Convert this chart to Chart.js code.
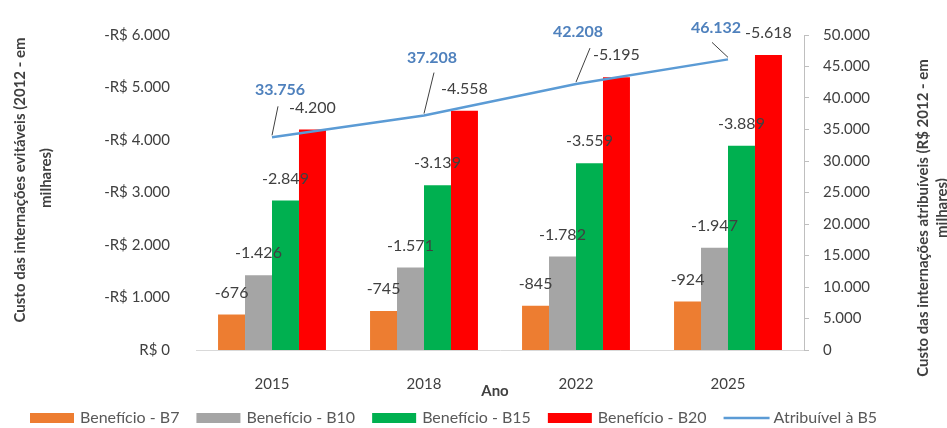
<!DOCTYPE html>
<html>
<head>
<meta charset="utf-8">
<script src="https://cdn.jsdelivr.net/npm/chart.js@4.4.1/dist/chart.umd.min.js"></script>
<style>
  html, body { margin: 0; padding: 0; background: #fff; }
  #wrap { width: 947px; height: 428px; }
</style>
</head>
<body>
<div id="wrap"><canvas id="grafico"></canvas></div>
<script>
// Dados (R$ 2012, em milhares)
const anos = ["2015", "2018", "2022", "2025"];
const beneficioB7 = [-676, -745, -845, -924];
const beneficioB10 = [-1426, -1571, -1782, -1947];
const beneficioB15 = [-2849, -3139, -3559, -3889];
const beneficioB20 = [-4200, -4558, -5195, -5618];
const atribuivelB5 = [33756, 37208, 42208, 46132];

const nomes = ["Benefício - B7", "Benefício - B10", "Benefício - B15", "Benefício - B20", "Atribuível à B5"];
const cores = ["#ED7D31", "#A5A5A5", "#00B050", "#FF0000", "#5B9BD5"];

const FONTE = "Lato, 'Liberation Sans', sans-serif";
const CINZA = "#404040";

// posição dos rótulos da linha e das linhas de chamada (relativas ao ponto)
const rotuloLinhaDesloc = [[8, -47], [8, -58], [2, -52], [-12, -32]];
const chamadaFim = [[6, -31], [10, -43], [14, -36], [-16, -17]];

function milhar(v) {
    let s = Math.abs(Math.round(v)).toString().replace(/\B(?=(\d{3})+(?!\d))/g, ".");
    return (v < 0 ? "-" : "") + s;
}

const rotulos = {
    id: "rotulos",
    afterDatasetsDraw(chart) {
        const ctx = chart.ctx;
        ctx.save();
        ctx.textAlign = "center";
        ctx.textBaseline = "middle";

        // valores das barras
        ctx.font = "16px " + FONTE;
        ctx.fillStyle = CINZA;
        for (let i = 0; i < 4; i++) {
            let meta = chart.getDatasetMeta(i);
            meta.data.forEach((bar, j) => {
                ctx.fillText(milhar(chart.data.datasets[i].data[j]), bar.x, bar.y - 22);
            });
        }

        // valores da linha com chamadas
        let metaLinha = chart.getDatasetMeta(4);
        metaLinha.data.forEach((pt, j) => {
            ctx.strokeStyle = "#404040";
            ctx.lineWidth = 1;
            ctx.beginPath();
            ctx.moveTo(pt.x, pt.y - 2);
            ctx.lineTo(pt.x + chamadaFim[j][0], pt.y + chamadaFim[j][1]);
            ctx.stroke();
            ctx.font = "bold 16px " + FONTE;
            ctx.fillStyle = "#4F81BD";
            ctx.fillText(milhar(atribuivelB5[j]), pt.x + rotuloLinhaDesloc[j][0], pt.y + rotuloLinhaDesloc[j][1]);
        });
        ctx.restore();
    },
    afterDraw(chart) {
        const ctx = chart.ctx;
        ctx.save();
        ctx.fillStyle = CINZA;
        ctx.textAlign = "center";
        ctx.textBaseline = "middle";

        // títulos dos eixos verticais
        ctx.font = "bold 15px " + FONTE;
        const vertical = (x, y, txt) => {
            ctx.save();
            ctx.translate(x, y);
            ctx.rotate(-Math.PI / 2);
            ctx.fillText(txt, 0, 0);
            ctx.restore();
        };
        vertical(20, 180, "Custo das internações evitáveis (2012 - em");
        vertical(46, 178, "milhares)");
        vertical(923, 218, "Custo das internações atribuíveis (R$ 2012 - em");
        vertical(942, 208, "milhares)");

        // título do eixo x
        ctx.fillText("Ano", 495, 391);

        // legenda
        ctx.font = "16px " + FONTE;
        ctx.textAlign = "left";
        let x = 30, y = 418;
        nomes.forEach((nome, i) => {
            if (i < 4) {
                ctx.fillStyle = cores[i];
                ctx.fillRect(x, y - 5, 44, 10);
            } else {
                ctx.strokeStyle = cores[i];
                ctx.lineWidth = 2.5;
                ctx.beginPath();
                ctx.moveTo(x, y);
                ctx.lineTo(x + 46, y);
                ctx.stroke();
            }
            ctx.fillStyle = "#595959";
            ctx.fillText(nome, x + 50, y);
            x += 50 + ctx.measureText(nome).width + 17;
        });
        ctx.restore();
    }
};

const series = [beneficioB7, beneficioB10, beneficioB15, beneficioB20];

new Chart(document.getElementById("grafico"), {
    data: {
        labels: anos,
        datasets: [
            ...series.map((d, i) => ({
                type: "bar",
                label: nomes[i],
                data: d,
                backgroundColor: cores[i],
                yAxisID: "y",
                order: 1,
                categoryPercentage: 0.71,
                barPercentage: 1.0
            })),
            {
                type: "line",
                label: nomes[4],
                data: atribuivelB5,
                borderColor: cores[4],
                borderWidth: 2.5,
                pointRadius: 0,
                tension: 0,
                yAxisID: "y1",
                order: 0
            }
        ]
    },
    options: {
        responsive: true,
        maintainAspectRatio: false,
        animation: false,
        layout: { padding: { top: 35, left: 0, right: 0, bottom: 0 } },
        plugins: {
            legend: { display: false },
            tooltip: { enabled: false }
        },
        scales: {
            x: {
                grid: { display: false },
                border: { display: true, color: "#d9d9d9" },
                ticks: { color: CINZA, font: { family: FONTE, size: 15 }, padding: 17 },
                afterFit(s) { s.height = 78; }
            },
            y: {
                position: "left",
                reverse: true,
                min: -6000,
                max: 0,
                grid: { display: false },
                border: { display: false },
                ticks: {
                    stepSize: 1000,
                    padding: 18,
                    color: CINZA,
                    font: { family: FONTE, size: 15 },
                    callback: v => v === 0 ? "R$ 0" : "-R$ " + milhar(Math.abs(v))
                },
                afterFit(s) { s.width = 196; }
            },
            y1: {
                position: "right",
                min: 0,
                max: 50000,
                grid: { display: true, drawOnChartArea: false, tickLength: 5, color: "#bfbfbf" },
                border: { display: true, color: "#bfbfbf" },
                ticks: {
                    stepSize: 5000,
                    padding: 14,
                    color: CINZA,
                    font: { family: FONTE, size: 15 },
                    callback: v => milhar(v)
                },
                afterFit(s) { s.width = 143; }
            }
        }
    },
    plugins: [rotulos]
});
</script>
</body>
</html>
